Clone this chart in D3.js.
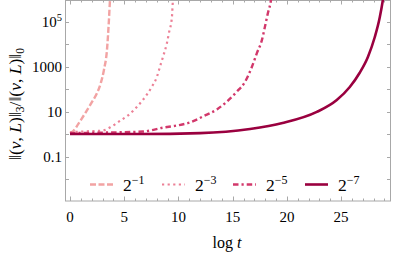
<!DOCTYPE html>
<html>
<head>
<meta charset="utf-8">
<script src="https://cdn.jsdelivr.net/npm/d3@7"></script>
<style>
  body { margin: 0; background: #fff; }
  svg { display: block; }
</style>
</head>
<body>
<div class="chart"></div>
<script>
// series: log t vs norm ratio
const seriesNames = ["−1", "−3", "−5", "−7"];
const tA = [0, 0.3, 0.74, 1.38, 2.03, 2.5, 2.85, 3.13, 3.41, 3.59, 3.69, 3.8];
const vA = [1.15, 1.4, 2.8, 8.5, 28, 70, 200, 740, 5700, 1.2e5, 9.5e5, 3e6];
const tB = [0, 1.84, 3.04, 3.87, 4.61, 5.35, 6.27, 7.1, 7.56, 8.02, 8.29, 8.57, 8.94, 9.12, 9.4, 9.49, 9.6];
const vB = [1.25, 1.4, 1.5, 2.3, 4, 7, 19, 60, 135, 370, 1000, 2760, 1.17e4, 3.2e4, 1.66e5, 9.5e5, 3e6];
const tC = [0, 2.76, 6.73, 8.57, 9.86, 11.06, 12.26, 13.55, 14.47, 15.39, 16.13, 16.77, 17.24, 17.7, 17.97, 18.25, 18.53, 18.65];
const vC = [1.15, 1.2, 1.35, 2, 2.5, 3.4, 6.3, 13, 29, 80, 215, 1000, 4200, 1.6e4, 6e4, 2.5e5, 9.5e5, 3e6];
const tD = [0, 6.45, 12, 16.6, 19.6, 22.76, 24.6, 25.8, 26.7, 27.47, 28.1, 28.57, 28.85, 29];
const vD = [1.05, 1.05, 1.15, 1.75, 3.2, 10, 34, 129, 540, 2800, 2.1e4, 1.67e5, 9.5e5, 3e6];
const xTicks = [0, 5, 10, 15, 20, 25];
const yTickValues = [0.1, 10, 1000, 1e5];
const yTickLabels = [["0.1", ""], ["10", ""], ["1000", ""], ["10", "5"]];

const W = 395, H = 258;
const mLeft = 65, mRight = 391, mTop = 0, mBottom = 201;
const serif = "'Liberation Serif', serif";

const svg = d3.select(".chart").append("svg")
    .attr("width", W)
    .attr("height", H)
    .style("font-family", serif);

const x = d3.scaleLinear().domain([-0.46, 29.6]).range([mLeft, mRight]);
const y = d3.scaleLog().domain([1.1e-3, 9.5e5]).range([mBottom, mTop]);

svg.append("defs").append("clipPath")
    .attr("id", "plot")
    .append("rect")
    .attr("x", mLeft).attr("y", mTop)
    .attr("width", mRight - mLeft).attr("height", mBottom - mTop);

const axisColor = "#a8a8a8";

// frame
svg.append("rect")
    .attr("x", mLeft + 0.5).attr("y", mTop + 0.5)
    .attr("width", mRight - mLeft - 1).attr("height", mBottom - mTop - 0.5)
    .attr("fill", "none")
    .attr("stroke", axisColor)
    .attr("stroke-width", 1);

// x ticks, bottom and top
const minorX = d3.range(0, 30, 1);
minorX.forEach(t => {
    const major = t % 5 === 0;
    const len = major ? 4.5 : 2.5;
    const px = Math.round(x(t)) + 0.5;
    svg.append("line")
        .attr("x1", px).attr("x2", px)
        .attr("y1", mBottom).attr("y2", mBottom - len)
        .attr("stroke", axisColor);
    svg.append("line")
        .attr("x1", px).attr("x2", px)
        .attr("y1", mTop).attr("y2", mTop + len)
        .attr("stroke", axisColor);
});

svg.selectAll("text.xtick")
    .data(xTicks)
    .enter().append("text")
    .attr("class", "xtick")
    .attr("x", d => x(d))
    .attr("y", 222)
    .attr("text-anchor", "middle")
    .attr("font-size", 15)
    .text(d => d);

// y ticks, left and right, one per decade
const decades = d3.range(-2, 6).map(e => Math.pow(10, e));
decades.forEach(v => {
    const py = Math.round(y(v)) + 0.5;
    svg.append("line")
        .attr("x1", mLeft).attr("x2", mLeft + 4)
        .attr("y1", py).attr("y2", py)
        .attr("stroke", axisColor);
    svg.append("line")
        .attr("x1", mRight).attr("x2", mRight - 4)
        .attr("y1", py).attr("y2", py)
        .attr("stroke", axisColor);
});

yTickValues.forEach((v, i) => {
    const t = svg.append("text")
        .attr("x", 62)
        .attr("y", y(v) + 5)
        .attr("text-anchor", "end")
        .attr("font-size", 15);
    t.append("tspan").text(yTickLabels[i][0]);
    if (yTickLabels[i][1]) {
        t.append("tspan").attr("dy", -6).attr("font-size", 10.5).text(yTickLabels[i][1]);
    }
});

// axis titles
const xt = svg.append("text")
    .attr("x", 227)
    .attr("y", 248)
    .attr("text-anchor", "middle")
    .attr("font-size", 16);
xt.append("tspan").text("log ");
xt.append("tspan").attr("font-style", "italic").text("t");

const yt = svg.append("text")
    .attr("transform", "translate(21,104) rotate(-90)")
    .attr("text-anchor", "middle")
    .attr("font-size", 17.5);
const part = (txt, italic) => yt.append("tspan").attr("font-style", italic ? "italic" : null).text(txt);
part("‖(", false); part("v", true); part(", ", false); part("L", true); part(")‖", false);
yt.append("tspan").attr("font-size", 11.5).attr("dy", 3).text("3");
yt.append("tspan").attr("dy", -3).text("/‖(");
part("v", true); part(", ", false); part("L", true); part(")‖", false);
yt.append("tspan").attr("font-size", 11.5).attr("dy", 3).text("0");

// curves
const series = [
    { t: tA, v: vA, color: "#f2a3a3", width: 2.4, dash: "6,2.5" },
    { t: tB, v: vB, color: "#ec8096", width: 2.2, dash: "2.2,3.4" },
    { t: tC, v: vC, color: "#d2386b", width: 2.4, dash: "5.5,3,2.2,3" },
    { t: tD, v: vD, color: "#9a003f", width: 2.6, dash: null }
];

const line = d3.line()
    .x(d => x(d[0]))
    .y(d => y(d[1]))
    .curve(d3.curveMonotoneX);

const g = svg.append("g").attr("clip-path", "url(#plot)");
series.forEach(s => {
    g.append("path")
        .datum(s.t.map((t, i) => [t, s.v[i]]))
        .attr("d", line)
        .attr("fill", "none")
        .attr("stroke", s.color)
        .attr("stroke-width", s.width)
        .attr("stroke-dasharray", s.dash);
});

// legend
const legendX = [90, 162, 233, 305];
const legY = 184.5;
series.forEach((s, i) => {
    svg.append("line")
        .attr("x1", legendX[i]).attr("x2", legendX[i] + 23)
        .attr("y1", legY).attr("y2", legY)
        .attr("stroke", s.color)
        .attr("stroke-width", s.width)
        .attr("stroke-dasharray", s.dash);
    const t = svg.append("text")
        .attr("x", legendX[i] + 33)
        .attr("y", legY + 6)
        .attr("font-size", 17.5);
    t.append("tspan").text("2");
    t.append("tspan").attr("dy", -7).attr("font-size", 12).text(seriesNames[i]);
});
</script>
</body>
</html>
